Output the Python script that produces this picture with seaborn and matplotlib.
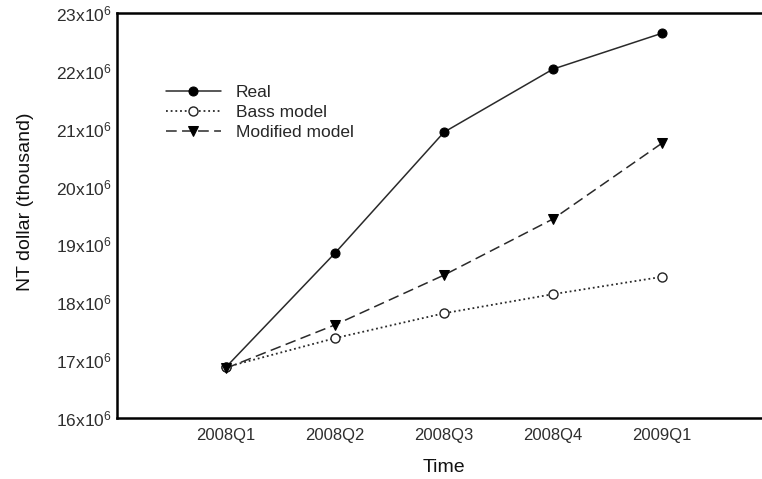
import matplotlib
matplotlib.use("Agg")
import matplotlib.pyplot as plt
import seaborn as sns
import pandas as pd

quarters = ["2008Q1", "2008Q2", "2008Q3", "2008Q4", "2009Q1"]
real = [16.88e6, 18.85e6, 20.94e6, 22.03e6, 22.65e6]
bass = [16.88e6, 17.38e6, 17.81e6, 18.14e6, 18.44e6]
modified = [16.86e6, 17.61e6, 18.47e6, 19.44e6, 20.75e6]
y_ticks = [16e6, 17e6, 18e6, 19e6, 20e6, 21e6, 22e6, 23e6]
y_tick_labels = [r"16x10$^{6}$", r"17x10$^{6}$", r"18x10$^{6}$", r"19x10$^{6}$",
                 r"20x10$^{6}$", r"21x10$^{6}$", r"22x10$^{6}$", r"23x10$^{6}$"]

sns.set_style("white")
plt.rcParams["font.family"] = ["Liberation Sans", "DejaVu Sans"]
plt.rcParams["mathtext.fontset"] = "custom"
plt.rcParams["mathtext.rm"] = "Liberation Sans"
plt.rcParams["mathtext.it"] = "Liberation Sans"
plt.rcParams["mathtext.default"] = "rm"

xpos = list(range(1, len(quarters) + 1))
df = pd.DataFrame({"x": xpos, "real": real, "bass": bass, "modified": modified})

fig = plt.figure(figsize=(7.62, 4.79), dpi=100)
W, H = 762, 479
left, right, top, bottom = 117, 771, 13, 418
ax = fig.add_axes([left / W, 1 - bottom / H, (right - left) / W, (bottom - top) / H])

lc = "#2a2a2a"
sns.lineplot(data=df, x="x", y="real", ax=ax, color=lc, lw=1.1, marker="o",
             markersize=6.5, markerfacecolor="black", markeredgecolor="black",
             label="Real")
sns.lineplot(data=df, x="x", y="bass", ax=ax, color=lc, lw=1.3, marker="o",
             markersize=6.5, markerfacecolor="white", markeredgecolor="#222222",
             markeredgewidth=1.0, dashes=(1, 1.6), label="Bass model")
sns.lineplot(data=df, x="x", y="modified", ax=ax, color=lc, lw=1.1, marker="v",
             markersize=7.5, markerfacecolor="black", markeredgecolor="black",
             dashes=(7, 3.5), label="Modified model")

ax.set_xlim(0, 6)
ax.set_ylim(16e6, 23e6)
ax.set_xticks(xpos)
ax.set_xticklabels(quarters, fontsize=12, color="#2e2e2e")
ax.set_yticks(y_ticks)
ax.set_yticklabels(y_tick_labels, fontsize=12.5, color="#2e2e2e")
ax.tick_params(axis="both", direction="in", length=5, width=1.5, color="black")
ax.tick_params(axis="y", pad=4)
ax.tick_params(axis="x", pad=7)
for side in ["left", "bottom", "top", "right"]:
    ax.spines[side].set_visible(True)
    ax.spines[side].set_linewidth(1.8)
    ax.spines[side].set_color("black")

ax.set_xlabel("Time", fontsize=14, color="#111111")
ax.set_ylabel("NT dollar (thousand)", fontsize=14, color="#111111")
ax.xaxis.set_label_coords(0.5, -(459 - bottom) / (bottom - top))
ax.yaxis.set_label_coords(-(117 - 34) / (right - left), 0.535)

ax.legend(loc="upper left", bbox_to_anchor=(166 / W, 1 - 85 / H),
          bbox_transform=fig.transFigure, frameon=False, fontsize=12.5,
          handlelength=3.15, handletextpad=0.86, labelspacing=0.28,
          borderpad=0, borderaxespad=0)

fig.savefig("out.png", dpi=100)
